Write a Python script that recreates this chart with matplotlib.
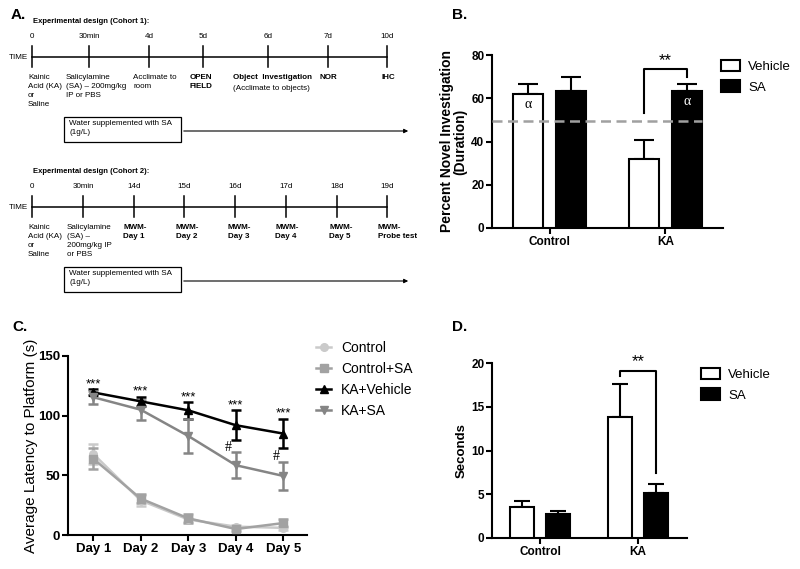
import matplotlib
matplotlib.use('Agg')
import matplotlib.pyplot as plt
from matplotlib.patches import Patch, Rectangle
from matplotlib.lines import Line2D
import numpy as np

plt.rcParams['font.family'] = ['Liberation Sans', 'DejaVu Sans']

# ---------------- datos ----------------
# Panel A: diseño experimental
cohort1_times = ['0', '30min', '4d', '5d', '6d', '7d', '10d']
cohort1_events = ['Kainic\nAcid (KA)\nor\nSaline', 'Salicylamine\n(SA) \u2013 200mg/kg\nIP or PBS',
                  'Acclimate to\nroom', 'OPEN\nFIELD', 'Object  Investigation', 'NOR', 'IHC']
cohort1_notes = ['', '', '', '', '(Acclimate to objects)', '', '']
cohort1_bold = [False, False, False, True, True, True, True]

cohort2_times = ['0', '30min', '14d', '15d', '16d', '17d', '18d', '19d']
cohort2_events = ['Kainic\nAcid (KA)\nor\nSaline', 'Salicylamine\n(SA) \u2013\n200mg/kg IP\nor PBS',
                  'MWM-\nDay 1', 'MWM-\nDay 2', 'MWM-\nDay 3', 'MWM-\nDay 4', 'MWM-\nDay 5',
                  'MWM-\nProbe test']
cohort2_notes = [''] * 8
cohort2_bold = [False, False, True, True, True, True, True, True]
water_text = 'Water supplemented with SA\n(1g/L)'

# Panel B: investigación del objeto nuevo (%)
groups = ['Control', 'KA']
novel_vehicle = [62, 32]
novel_vehicle_err = [4.5, 8.8]
novel_sa = [63.5, 63.4]
novel_sa_err = [6.5, 3.0]
chance_level = 49.5

# Panel C: latencia a la plataforma (s)
days = ['Day 1', 'Day 2', 'Day 3', 'Day 4', 'Day 5']
lat_control = [68, 29, 13, 7, 6]
lat_control_err = [8.5, 4.5, 2, 1.5, 1.5]
lat_control_sa = [64, 30.5, 14, 5, 10]
lat_control_sa_err = [9, 3.5, 4, 2, 3.5]
lat_ka_vehicle = [119.5, 112, 104.5, 92, 85]
lat_ka_vehicle_err = [2.5, 4, 7, 12.5, 12.5]
lat_ka_sa = [115.5, 105, 83, 58.5, 49.5]
lat_ka_sa_err = [5.5, 8.5, 14, 11, 12]
hash_days = [3, 4]

# Panel D: prueba de sonda (segundos)
probe_vehicle = [3.5, 13.8]
probe_vehicle_err = [0.75, 3.8]
probe_sa = [2.7, 5.1]
probe_sa_err = [0.4, 1.05]

# ---------------- figura ----------------
W, H = 800, 569
fig = plt.figure(figsize=(8, 5.69), dpi=100)

# lienzo en pixeles para el panel A y las letras
axA = fig.add_axes([0, 0, 1, 1], zorder=0)
axA.set_xlim(0, W)
axA.set_ylim(H, 0)
axA.axis('off')

FS_A = 5.8


def timeline(ax, y0, title, times, tick_x, events, event_x, notes, bold):
    ax.text(33, y0, title, fontsize=5.5, fontweight='bold', ha='left', va='center')
    yl = y0 + 36
    ax.text(9, yl, 'TIME', fontsize=FS_A, ha='left', va='center')
    ax.plot([tick_x[0], tick_x[-1]], [yl, yl], color='black', lw=1.1)
    for xt, t in zip(tick_x, times):
        ax.plot([xt, xt], [yl - 11, yl + 10], color='black', lw=1.1)
        ax.text(xt, yl - 21, t, fontsize=FS_A, ha='center', va='center')
    for xe, ev, nt, b in zip(event_x, events, notes, bold):
        ax.text(xe, yl + 17, ev, fontsize=FS_A, ha='left', va='top', linespacing=1.4,
                fontweight='bold' if b else 'normal')
        if nt:
            ax.text(xe, yl + 28, nt, fontsize=FS_A, ha='left', va='top')
    # caja de agua con SA y flecha
    by = yl + 60
    ax.add_patch(Rectangle((64, by), 117, 25, fill=False, edgecolor='black', lw=0.9))
    ax.text(69, by + 3, water_text, fontsize=FS_A, ha='left', va='top', linespacing=1.4)
    ax.annotate('', xy=(411, by + 14), xytext=(181, by + 14),
                arrowprops=dict(arrowstyle='-|>', lw=0.8, color='black', mutation_scale=6))


timeline(axA, 21, 'Experimental design (Cohort 1):', cohort1_times,
         [32, 89, 149, 203, 268, 328, 387], cohort1_events,
         [28, 66, 133, 190, 233, 320, 382], cohort1_notes, cohort1_bold)
timeline(axA, 171, 'Experimental design (Cohort 2):', cohort2_times,
         [32, 83, 134, 184, 235, 286, 337, 387], cohort2_events,
         [28, 67, 123, 176, 228, 275, 329, 378], cohort2_notes, cohort2_bold)

for lbl, (px, py) in zip(['A.', 'B.', 'C.', 'D.'], [(11, 15), (452, 15), (12, 327), (452, 327)]):
    axA.text(px, py, lbl, fontsize=11, fontweight='bold', ha='left', va='center')


def estilo(ax, fs):
    for s in ['top', 'right']:
        ax.spines[s].set_visible(False)
    for s in ['left', 'bottom']:
        ax.spines[s].set_linewidth(1.5)
    ax.tick_params(width=1.5, length=4, labelsize=fs, pad=1.5)
    for t in ax.get_xticklabels() + ax.get_yticklabels():
        t.set_fontweight('bold')


def barras(ax, veh, veh_err, sa, sa_err, w, off, cap):
    x = np.arange(len(groups))
    ax.bar(x - off, veh, w, color='white', edgecolor='black', lw=1.5, zorder=3)
    ax.bar(x + off, sa, w, color='black', edgecolor='black', lw=1.5, zorder=3)
    ax.errorbar(x - off, veh, yerr=[np.zeros(len(veh)), veh_err], fmt='none', ecolor='black',
                elinewidth=1.5, capsize=cap, capthick=1.5, zorder=2)
    ax.errorbar(x + off, sa, yerr=[np.zeros(len(sa)), sa_err], fmt='none', ecolor='black',
                elinewidth=1.5, capsize=cap, capthick=1.5, zorder=2)
    ax.set_xticks(x)
    ax.set_xticklabels(groups, fontsize=9.5)
    return x


def bracket(ax, x1, x2, ytop, y1, y2, ystar, fs):
    ax.plot([x1, x1, x2, x2], [y1, ytop, ytop, y2], color='black', lw=1.5, zorder=5)
    ax.text((x1 + x2) / 2, ystar, '**', ha='center', va='center', fontsize=fs, zorder=5)


leg_handles = [Patch(facecolor='white', edgecolor='black', lw=1.5, label='Vehicle'),
               Patch(facecolor='black', edgecolor='black', lw=1.5, label='SA')]

# ---------------- Panel B ----------------
axB = fig.add_axes([492 / W, 1 - 228 / H, 231 / W, 173 / H])
wB, offB = 0.26, 0.186
xB = barras(axB, novel_vehicle, novel_vehicle_err, novel_sa, novel_sa_err, wB, offB, 7)
axB.set_xlim(-0.5, 1.5)
axB.set_ylim(0, 80)
axB.set_yticks([0, 20, 40, 60, 80])
axB.plot([-0.5, xB[-1] + offB + wB / 2], [chance_level] * 2, ls=(0, (4, 2.2)),
         color='#a0a0a0', lw=1.8, zorder=4)
axB.text(xB[0] - offB, novel_vehicle[0] - 5, '\u03b1', family='Liberation Serif',
         fontsize=10, ha='center', va='center', color='black', zorder=5)
axB.text(xB[1] + offB, novel_sa[1] - 5, '\u03b1', family='Liberation Serif',
         fontsize=10, ha='center', va='center', color='white', zorder=5)
bracket(axB, xB[1] - offB, xB[1] + offB, 73.5, 53, 69.8, 77.6, 12)
axB.set_ylabel('Percent Novel Investigation\n(Duration)', fontsize=10, fontweight='bold',
               linespacing=1.0)
axB.yaxis.set_label_coords(-0.105, 0.5)
estilo(axB, 8.5)
axB.legend(handles=leg_handles, loc='upper left', bbox_to_anchor=(721 / W, 1 - 60 / H),
           bbox_transform=fig.transFigure, frameon=False, fontsize=9.5, borderpad=0,
           borderaxespad=0, handlelength=1.45, handleheight=0.95, handletextpad=0.6,
           labelspacing=0.55)

# ---------------- Panel C ----------------
axC = fig.add_axes([68 / W, 1 - 535 / H, 239 / W, 179 / H])
xd = np.arange(len(days))
series_c = [(lat_control, lat_control_err, '#cacaca', 'o', 5.5, 'Control'),
            (lat_control_sa, lat_control_sa_err, '#a2a2a2', 's', 6, 'Control+SA'),
            (lat_ka_vehicle, lat_ka_vehicle_err, 'black', '^', 6, 'KA+Vehicle'),
            (lat_ka_sa, lat_ka_sa_err, '#858585', 'v', 6, 'KA+SA')]
handles_c = []
for vals, err, col, mk, ms, lab in series_c:
    axC.errorbar(xd, vals, yerr=err, color=col, marker=mk, ms=ms, lw=1.8, elinewidth=1.8,
                 capsize=3.5, capthick=1.8, zorder=3)
    handles_c.append(Line2D([], [], color=col, marker=mk, ms=ms, lw=1.8, label=lab))
top_c = np.maximum(np.array(lat_ka_vehicle) + lat_ka_vehicle_err,
                   np.array(lat_ka_sa) + lat_ka_sa_err)
for i in xd:
    axC.text(i, top_c[i] + 1.5, '***', ha='center', va='baseline', fontsize=9.5)
for i in hash_days:
    axC.text(i - 0.15, lat_ka_sa[i] + lat_ka_sa_err[i] + 4, '#', ha='center', va='center',
             fontsize=10, family='Liberation Serif')
axC.set_xlim(-0.53, 4.5)
axC.set_ylim(0, 150)
axC.set_yticks([0, 50, 100, 150])
axC.set_xticks(xd)
axC.set_xticklabels(days)
axC.set_ylabel('Average Latency to Platform (s)', fontsize=11)
axC.yaxis.set_label_coords(-0.125, 0.5)
estilo(axC, 9.5)
axC.legend(handles=handles_c, loc='upper left', bbox_to_anchor=(316 / W, 1 - 341 / H),
           bbox_transform=fig.transFigure, frameon=False, fontsize=10, borderpad=0,
           borderaxespad=0, handlelength=1.1, handletextpad=0.7, labelspacing=0.5)

# ---------------- Panel D ----------------
axD = fig.add_axes([492 / W, 1 - 538 / H, 195 / W, 175 / H])
wD, offD = 0.245, 0.184
xD = barras(axD, probe_vehicle, probe_vehicle_err, probe_sa, probe_sa_err, wD, offD, 6)
axD.set_xlim(-0.49, 1.5)
axD.set_ylim(0, 20)
axD.set_yticks([0, 5, 10, 15, 20])
bracket(axD, xD[1] - offD, xD[1] + offD, 19.1, 18.5, 7.4, 20.2, 12)
axD.set_ylabel('Seconds', fontsize=9.5, fontweight='bold')
axD.yaxis.set_label_coords(-0.123, 0.5)
estilo(axD, 8.5)
axD.legend(handles=leg_handles, loc='upper left', bbox_to_anchor=(701 / W, 1 - 368 / H),
           bbox_transform=fig.transFigure, frameon=False, fontsize=9.5, borderpad=0,
           borderaxespad=0, handlelength=1.45, handleheight=0.95, handletextpad=0.6,
           labelspacing=0.55)

fig.savefig('out.png', dpi=100)
